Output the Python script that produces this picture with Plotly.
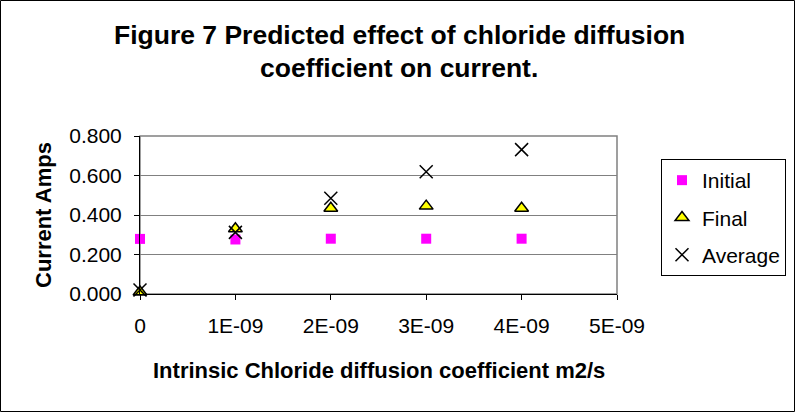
import plotly.graph_objects as go

x_vals = [0, 1e-9, 2e-9, 3e-9, 4e-9]
initial = [0.279, 0.276, 0.280, 0.280, 0.280]
final = [0.010, 0.330, 0.434, 0.445, 0.434]
average = [0.020, 0.312, 0.485, 0.619, 0.731]
x_tickvals = [0, 1e-9, 2e-9, 3e-9, 4e-9, 5e-9]
x_ticktext = ["0", "1E-09", "2E-09", "3E-09", "4E-09", "5E-09"]

W, H = 795, 412
L, R, T, B = 140, 178, 136, 118
pw, ph = W - L - R, H - T - B
FONT = "Liberation Sans, Arial, sans-serif"

fig = go.Figure()
fig.add_trace(go.Scatter(x=x_vals, y=initial, mode="markers", name="Initial", legendgroup="a", cliponaxis=False,
                         marker=dict(symbol="square", size=10, color="#ff00ff", line=dict(width=0))))
fig.add_trace(go.Scatter(x=x_vals, y=final, mode="markers", name="Final", legendgroup="b", cliponaxis=False,
                         marker=dict(symbol="triangle-up", size=12, color="#ffff00", line=dict(width=1.5, color="black"))))
fig.add_trace(go.Scatter(x=x_vals, y=average, mode="markers", name="Average", legendgroup="c", cliponaxis=False,
                         marker=dict(symbol="x-thin", size=13, color="black", line=dict(width=1.5, color="black"))))

fig.update_layout(
    width=W, height=H,
    margin=dict(l=L, r=R, t=T, b=B, autoexpand=False),
    paper_bgcolor="white", plot_bgcolor="white",
    font=dict(family=FONT, size=21, color="black"),
    showlegend=True,
    legend=dict(x=(661 - L) / pw, y=(T + ph - 159) / ph,
                xanchor="left", yanchor="top",
                bordercolor="black", borderwidth=1, bgcolor="white",
                font=dict(family=FONT, size=21), tracegroupgap=7, traceorder="grouped",
                itemwidth=30),
    xaxis=dict(range=[0, 5e-9], tickvals=x_tickvals, ticktext=x_ticktext,
               showgrid=False, zeroline=False, showline=True, linecolor="black", linewidth=1,
               ticks="outside", ticklen=5, tickcolor="black", tickfont=dict(size=21), ticklabelstandoff=8),
    yaxis=dict(range=[0, 0.8], dtick=0.2, tickformat=".3f",
               showgrid=True, gridcolor="#808080", gridwidth=1, zeroline=False,
               showline=True, linecolor="black", linewidth=1,
               ticks="outside", ticklen=5, tickcolor="black", tickfont=dict(size=21), ticklabelstandoff=8),
    shapes=[
        dict(type="rect", xref="paper", yref="paper", x0=0, x1=1, y0=0, y1=1,
             line=dict(color="#808080", width=1.5), layer="below"),
        dict(type="rect", xref="paper", yref="paper",
             x0=(0.5 - L) / pw, x1=(W - 0.5 - L) / pw,
             y0=-(B - 0.5) / ph, y1=1 + (T - 0.5) / ph,
             line=dict(color="black", width=1)),
    ],
    annotations=[
        dict(text="<b>Figure 7 Predicted effect of chloride diffusion</b>", xref="paper", yref="paper",
             x=(399 - L) / pw, y=1 + (T - 35) / ph, showarrow=False, xanchor="center", yanchor="middle",
             font=dict(size=26.5, family=FONT)),
        dict(text="<b>coefficient on current.</b>", xref="paper", yref="paper",
             x=(399 - L) / pw, y=1 + (T - 68) / ph, showarrow=False, xanchor="center", yanchor="middle",
             font=dict(size=26.5, family=FONT)),
        dict(text="<b>Intrinsic Chloride diffusion coefficient m2/s</b>", xref="paper", yref="paper",
             x=0.5, y=-(370 - (T + ph)) / ph, showarrow=False, xanchor="center", yanchor="middle",
             font=dict(size=22, family=FONT)),
        dict(text="<b>Current Amps</b>", xref="paper", yref="paper",
             x=(43 - L) / pw, y=0.5, showarrow=False, xanchor="center", yanchor="middle", textangle=-90,
             font=dict(size=22, family=FONT)),
    ],
)

fig.write_html("out.html", config={"displayModeBar": False},
               post_script="document.body.style.margin='0';document.body.style.overflow='hidden';")
